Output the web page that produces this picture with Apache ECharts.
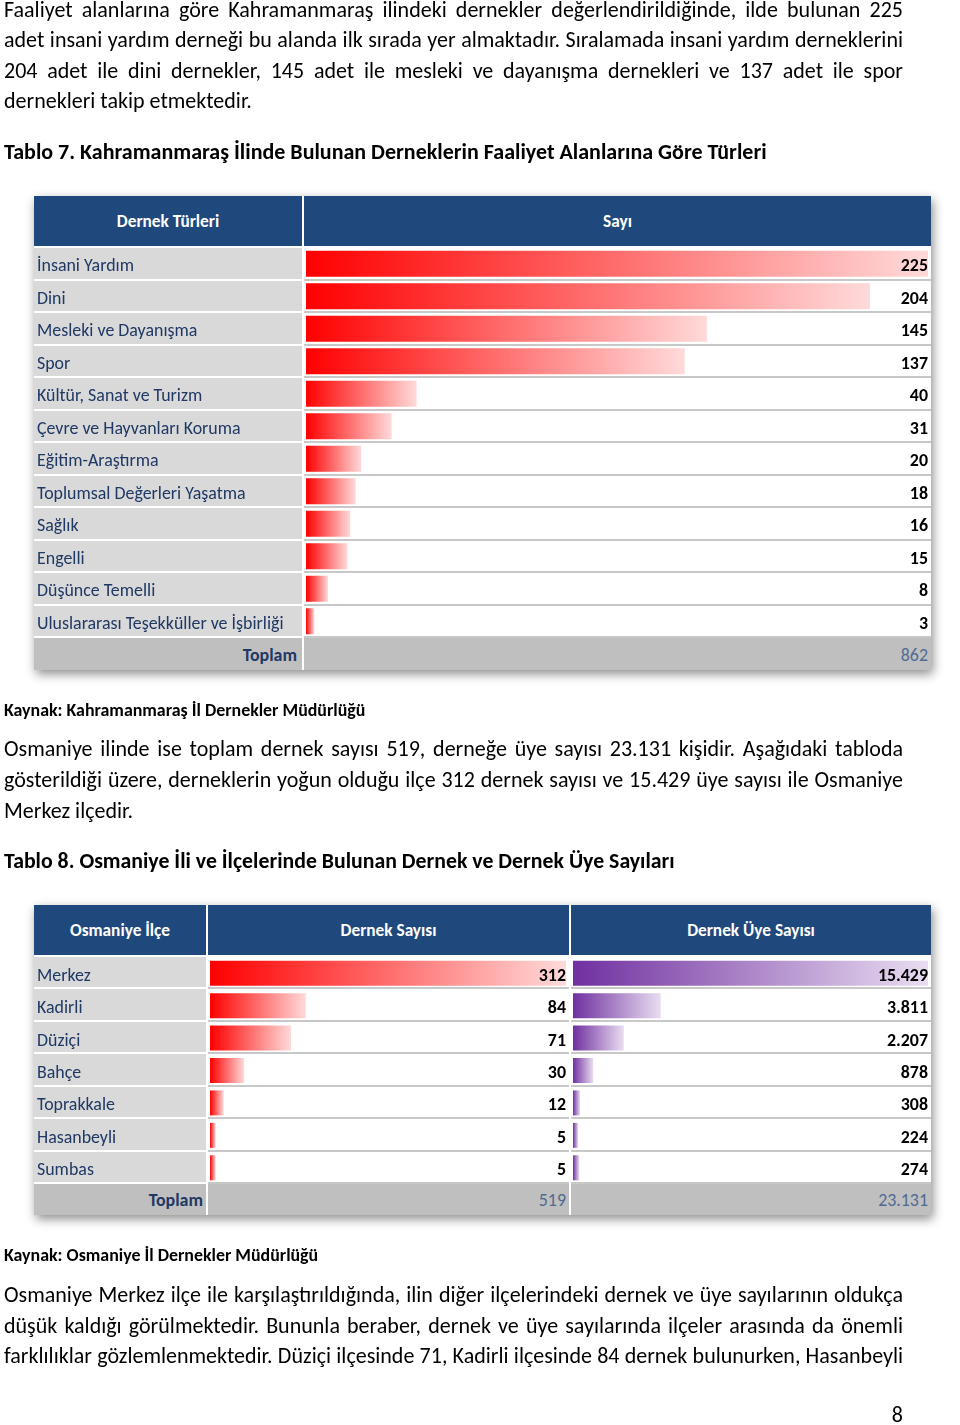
<!DOCTYPE html>
<html><head><meta charset="utf-8">
<script src="https://cdn.jsdelivr.net/npm/echarts@6/dist/echarts.min.js"></script>
<style>
html,body{margin:0;padding:0;background:#fff;}
#page{position:relative;width:960px;height:1425px;overflow:hidden;font-family:Carlito,Calibri,sans-serif;color:#000;}
.ln{position:absolute;left:4px;width:899px;font-size:22px;line-height:30px;white-space:normal;}
.j{text-align:justify;text-align-last:justify;}
.b{font-weight:bold;}
.tbl{position:absolute;left:34px;width:897px;background:#fff;box-shadow:2px 4px 10px rgba(0,0,0,0.45);}
.cell{position:absolute;box-sizing:border-box;}
.hd{background:#1F497D;color:#fff;font-weight:bold;font-size:17.3px;display:flex;align-items:center;justify-content:center;padding-top:1px;}
#chart{position:absolute;left:0;top:0;width:960px;height:1425px;}
</style></head>
<body><div id="page">
<div id="tbl1" class="tbl" style="top:196px;height:474px;"></div>
<div id="tbl2" class="tbl" style="top:905px;height:310px;"></div>
<div id="chart"></div>
<div id="texts"></div>
</div>
<script>
// ---------- DATA ----------
var typeNames = ['İnsani Yardım','Dini','Mesleki ve Dayanışma','Spor','Kültür, Sanat ve Turizm','Çevre ve Hayvanları Koruma','Eğitim-Araştırma','Toplumsal Değerleri Yaşatma','Sağlık','Engelli','Düşünce Temelli','Uluslararası Teşekküller ve İşbirliği'];
var typeCounts = [225,204,145,137,40,31,20,18,16,15,8,3];
var typeTotal = 862;
var districts = ['Merkez','Kadirli','Düziçi','Bahçe','Toprakkale','Hasanbeyli','Sumbas'];
var districtAssoc = [312,84,71,30,12,5,5];
var districtMembers = [15429,3811,2207,878,308,224,274];
var assocTotal = 519;
var membersTotal = 23131;
var table1Headers = ['Dernek Türleri','Sayı'];
var table2Headers = ['Osmaniye İlçe','Dernek Sayısı','Dernek Üye Sayısı'];
var totalLabel = 'Toplam';

function fmt(n){return String(n).replace(/\B(?=(\d{3})+(?!\d))/g,'.');}

// ---------- TEXT LINES ----------
var lines = [
 {t:'Faaliyet alanlarına göre Kahramanmaraş ilindeki dernekler değerlendirildiğinde, ilde bulunan 225',y:10,j:1},
 {t:'adet insani yardım derneği bu alanda ilk sırada yer almaktadır. Sıralamada insani yardım derneklerini',y:40,j:1},
 {t:'204 adet ile dini dernekler, 145 adet ile mesleki ve dayanışma dernekleri ve 137 adet ile spor',y:71,j:1},
 {t:'dernekleri takip etmektedir.',y:101},
 {t:'Tablo 7. Kahramanmaraş İlinde Bulunan Derneklerin Faaliyet Alanlarına Göre Türleri',y:152,b:1},
 {t:'Kaynak: Kahramanmaraş İl Dernekler Müdürlüğü',y:710,b:1,fs:17.9},
 {t:'Osmaniye ilinde ise toplam dernek sayısı 519, derneğe üye sayısı 23.131 kişidir. Aşağıdaki tabloda',y:749,j:1},
 {t:'gösterildiği üzere, derneklerin yoğun olduğu ilçe 312 dernek sayısı ve 15.429 üye sayısı ile Osmaniye',y:780,j:1},
 {t:'Merkez ilçedir.',y:811},
 {t:'Tablo 8. Osmaniye İli ve İlçelerinde Bulunan Dernek ve Dernek Üye Sayıları',y:861,b:1,fs:21.8},
 {t:'Kaynak: Osmaniye İl Dernekler Müdürlüğü',y:1255,b:1,fs:17.9},
 {t:'Osmaniye Merkez ilçe ile karşılaştırıldığında, ilin diğer ilçelerindeki dernek ve üye sayılarının oldukça',y:1295,j:1},
 {t:'düşük kaldığı görülmektedir. Bununla beraber, dernek ve üye sayılarında ilçeler arasında da önemli',y:1326,j:1},
 {t:'farklılıklar gözlemlenmektedir. Düziçi ilçesinde 71, Kadirli ilçesinde 84 dernek bulunurken, Hasanbeyli',y:1356,j:1}
];
var tx = document.getElementById('texts');
lines.forEach(function(l){
  var d=document.createElement('div');
  d.className='ln'+(l.j?' j':'')+(l.b?' b':'');
  d.style.top=(l.y-15)+'px';
  var fs=l.fs||22;
  d.style.fontSize=fs+'px';
  d.textContent=l.t; tx.appendChild(d);
  var guard=0;
  while(d.scrollHeight>36 && guard<40){fs-=0.1;d.style.fontSize=fs+'px';guard++;}
});
var pn=document.createElement('div');pn.className='ln';pn.style.top='1400px';pn.style.textAlign='right';pn.textContent='8';tx.appendChild(pn);

// ---------- TABLE BACKGROUNDS (HTML) ----------
function cell(parent,x,y,w,h,cls,bg,txt,style){
  var c=document.createElement('div');c.className='cell '+(cls||'');
  c.style.left=x+'px';c.style.top=y+'px';c.style.width=w+'px';c.style.height=h+'px';
  if(bg) c.style.background=bg;
  if(txt!=null) c.textContent=txt;
  if(style) for(var k in style) c.style[k]=style[k];
  parent.appendChild(c);return c;
}
var totStyle={fontSize:'17.9px',display:'flex',alignItems:'center',justifyContent:'flex-end',paddingTop:'2px'};
function ts(o){return Object.assign({},totStyle,o);}
// table 1: columns [0,268] [270,897]
(function(){
  var p=document.getElementById('tbl1');
  cell(p,0,0,268,50,'hd',null,table1Headers[0]);
  cell(p,270,0,627,50,'hd',null,table1Headers[1]);
  var rh=32.5, top0=52;
  for(var i=0;i<typeNames.length;i++){
    var y=top0+i*rh;
    cell(p,0,y,268,rh-2,'','#D9D9D9');
    cell(p,270,y+rh-2,627,2,'','#C8C8C8');
  }
  var ty=top0+typeNames.length*rh;
  cell(p,0,ty,268,474-ty,'','#BFBFBF');
  cell(p,270,ty,627,474-ty,'','#BFBFBF');
  cell(p,0,ty,263,474-ty,'',null,totalLabel,ts({fontWeight:'bold',color:'#1F3864'}));
  cell(p,270,ty,624,474-ty,'',null,fmt(typeTotal),ts({color:'#4F6B93'}));
})();
// table 2: columns [0,172] [174,535] [537,897]
(function(){
  var p=document.getElementById('tbl2');
  cell(p,0,0,172,50,'hd',null,table2Headers[0]);
  cell(p,174,0,361,50,'hd',null,table2Headers[1]);
  cell(p,537,0,360,50,'hd',null,table2Headers[2]);
  var rh=32.43, top0=52;
  for(var i=0;i<districts.length;i++){
    var y=top0+i*rh;
    cell(p,0,y,172,rh-2,'','#D9D9D9');
    cell(p,174,y+rh-2,361,2,'','#C8C8C8');
    cell(p,537,y+rh-2,360,2,'','#C8C8C8');
  }
  var ty=top0+districts.length*rh;
  cell(p,0,ty,172,310-ty,'','#BFBFBF');
  cell(p,174,ty,361,310-ty,'','#BFBFBF');
  cell(p,537,ty,360,310-ty,'','#BFBFBF');
  cell(p,0,ty,169,310-ty,'',null,totalLabel,ts({fontWeight:'bold',color:'#1F3864'}));
  cell(p,174,ty,358,310-ty,'',null,fmt(assocTotal),ts({color:'#4F6B93'}));
  cell(p,537,ty,357,310-ty,'',null,fmt(membersTotal),ts({color:'#4F6B93'}));
})();

// ---------- ECHARTS (bars + row labels + values) ----------
var FONT='Carlito, Calibri, sans-serif';
var chart=echarts.init(document.getElementById('chart'),null,{renderer:'canvas'});
function grad(c0,c1){return new echarts.graphic.LinearGradient(0,0,1,0,[{offset:0,color:c0},{offset:1,color:c1}]);}
var red=grad('#FF0000','#FFDADA'), purple=grad('#7030A0','#E9DDF1');
function catAxis(grid,data,opts){
  return Object.assign({gridIndex:grid,type:'category',inverse:true,data:data,z:10,
    axisLine:{show:false},axisTick:{show:false},splitLine:{show:false}},opts);
}
function valAxis(grid,max){return {gridIndex:grid,type:'value',min:0,max:max,show:false};}
function richLabel(base,bold,color){
  return Object.assign({interval:0,formatter:function(v){return '{a|'+v+'}';},
    rich:{a:{fontSize:17.9,fontFamily:FONT,fontWeight:bold?'bold':'normal',color:color,lineHeight:20,padding:[6,0,0,0]}}},base);
}
var option={
  animation:false,
  backgroundColor:'transparent',
  grid:[
    {left:306,width:622,top:247.5,height:390},
    {left:210,width:356,top:957,height:227},
    {left:573,width:355,top:957,height:227}
  ],
  xAxis:[valAxis(0,Math.max.apply(null,typeCounts)),valAxis(1,Math.max.apply(null,districtAssoc)),valAxis(2,Math.max.apply(null,districtMembers))],
  yAxis:[
    catAxis(0,typeNames,{axisLabel:richLabel({align:'left',margin:269},false,'#1F3864')}),
    catAxis(0,typeCounts.map(fmt),{position:'right',axisLabel:richLabel({align:'right',margin:0},true,'#000')}),
    catAxis(1,districts,{axisLabel:richLabel({align:'left',margin:173},false,'#1F3864')}),
    catAxis(1,districtAssoc.map(fmt),{position:'right',axisLabel:richLabel({align:'right',margin:0},true,'#000')}),
    catAxis(2,districts,{axisLabel:{show:false}}),
    catAxis(2,districtMembers.map(fmt),{position:'right',axisLabel:richLabel({align:'right',margin:0},true,'#000')})
  ],
  series:[
    {type:'bar',xAxisIndex:0,yAxisIndex:0,data:typeCounts,barWidth:26,itemStyle:{color:red},silent:true,z:2},
    {type:'bar',xAxisIndex:1,yAxisIndex:2,data:districtAssoc,barWidth:25,itemStyle:{color:red},silent:true,z:2},
    {type:'bar',xAxisIndex:2,yAxisIndex:4,data:districtMembers,barWidth:25,itemStyle:{color:purple},silent:true,z:2}
  ]
};
chart.setOption(option);
</script>
</body></html>
